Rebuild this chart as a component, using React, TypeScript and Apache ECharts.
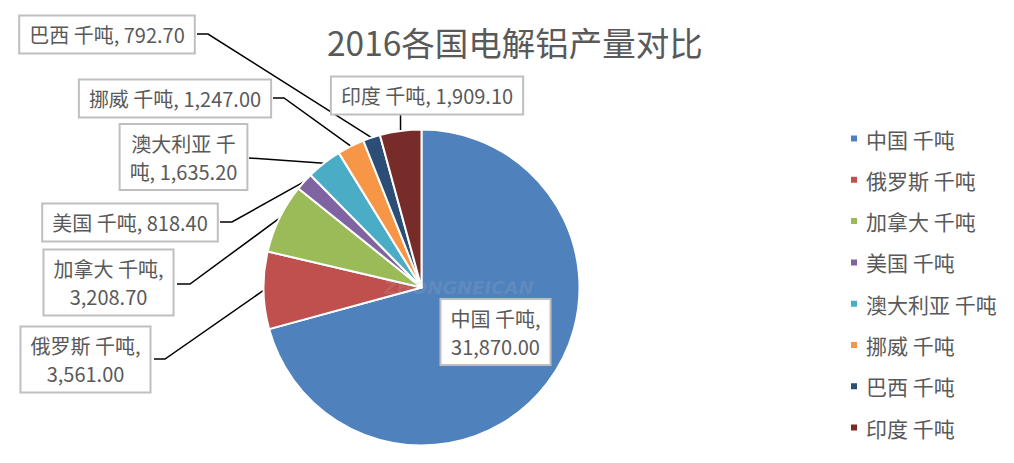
import React, { useEffect, useRef } from "react";
import * as echarts from "echarts";

const titleText = "2016各国电解铝产量对比";
const categories = ["中国 千吨", "俄罗斯 千吨", "加拿大 千吨", "美国 千吨", "澳大利亚 千吨", "挪威 千吨", "巴西 千吨", "印度 千吨"];
const values = [31870.0, 3561.0, 3208.7, 818.4, 1635.2, 1247.0, 792.7, 1909.1];
const colors = ["#4F81BD", "#C0504D", "#9BBB59", "#8064A2", "#4BACC6", "#F79646", "#2C4D75", "#772C2A"];

// label box centres, elbow points, box edge anchor, and line-break position (character index, -1 = none)
const labelSpots = [
  { cx: 495.5, cy: 332, elbow: null, edge: null, brk: 6 },
  { cx: 85.5, cy: 359.5, elbow: [165, 359], edge: [154, 359], brk: 7 },
  { cx: 108.5, cy: 282.5, elbow: [190, 284], edge: [177, 284], brk: 7 },
  { cx: 130, cy: 222.5, elbow: [232, 222], edge: [220, 222], brk: -1 },
  { cx: 183.5, cy: 157, elbow: null, edge: [249, 158], brk: 6 },
  { cx: 175, cy: 98.5, elbow: [284, 98], edge: [273, 98], brk: -1 },
  { cx: 107, cy: 34.5, elbow: [208, 34], edge: [197, 34], brk: -1 },
  { cx: 427, cy: 95.5, elbow: null, edge: "vertical", brk: -1 },
];

function fmt(v: number): string {
  return v.toLocaleString("en-US", { minimumFractionDigits: 2, maximumFractionDigits: 2 });
}

function labelText(i: number): string {
  const s = `${categories[i]}, ${fmt(values[i])}`;
  const b = labelSpots[i].brk;
  if (b < 0) return s;
  return s.slice(0, b).trimEnd() + "\n" + s.slice(b).trimStart();
}

export default function App() {
  const ref = useRef<HTMLDivElement>(null);
  useEffect(() => {
    document.body.style.margin = "0";
    const chart = echarts.init(ref.current!, null, { renderer: "svg" });
    const font = "'Noto Sans CJK SC', 'Noto Sans', sans-serif";
    chart.setOption({
      animation: false,
      backgroundColor: "#ffffff",
      title: {
        text: titleText,
        left: 327,
        top: 25,
        padding: 0,
        textStyle: { fontFamily: font, fontSize: 33.5, fontWeight: "normal", color: "#595959" },
      },
      legend: {
        orient: "vertical",
        left: 849,
        top: 128,
        padding: 0,
        icon: "rect",
        itemWidth: 8,
        itemHeight: 8,
        itemGap: 20.3,
        data: categories,
        textStyle: { fontFamily: font, fontSize: 21, color: "#595959", lineHeight: 21, padding: [0, 0, 0, 3] },
      },
      graphic: [
        {
          type: "text",
          left: 384,
          top: 278,
          z: 100,
          style: {
            text: "ZHONGNEICAN",
            fontFamily: "'DejaVu Sans', sans-serif",
            fontSize: 18,
            fontWeight: "bold",
            fontStyle: "italic",
            fill: "rgba(190,190,190,0.18)",
          },
        },
      ],
      series: [
        {
          type: "pie",
          center: [421.5, 287.5],
          radius: 158,
          startAngle: 90,
          clockwise: true,
          avoidLabelOverlap: false,
          itemStyle: { borderColor: "#ffffff", borderWidth: 2 },
          label: {
            show: true,
            position: "outside",
            formatter: (p: any) => labelText(p.dataIndex),
            fontFamily: font,
            fontSize: 20,
            color: "#595959",
            lineHeight: 28,
            align: "center",
            backgroundColor: "#ffffff",
            borderColor: "#bfbfbf",
            borderWidth: 2,
            padding: [4, 9],
          },
          labelLine: { show: true, smooth: false, length: 10, length2: 10, lineStyle: { color: "#000000", width: 1.5 } },
          labelLayout: (params: any) => {
            const i = params.dataIndex;
            const spot = labelSpots[i];
            const out: any = { x: spot.cx, y: spot.cy, align: "center", verticalAlign: "middle" };
            const pts = params.labelLinePoints;
            if (pts && pts.length && spot.edge) {
              const start = pts[0];
              if (spot.edge === "vertical") {
                out.labelLinePoints = [start, [start[0], start[1] - 6], [start[0], 113]];
              } else if (spot.elbow) {
                out.labelLinePoints = [start, spot.elbow, spot.edge];
              } else {
                out.labelLinePoints = [start, spot.edge, spot.edge];
              }
            }
            return out;
          },
          data: categories.map((name, i) => {
            const d: any = { name, value: values[i], itemStyle: { color: colors[i] } };
            if (i === 0) {
              d.label = { position: "inside" };
              d.labelLine = { show: false };
            }
            return d;
          }),
        },
      ],
    });
    return () => chart.dispose();
  }, []);
  return <div ref={ref} style={{ width: 1014, height: 463 }} />;
}
